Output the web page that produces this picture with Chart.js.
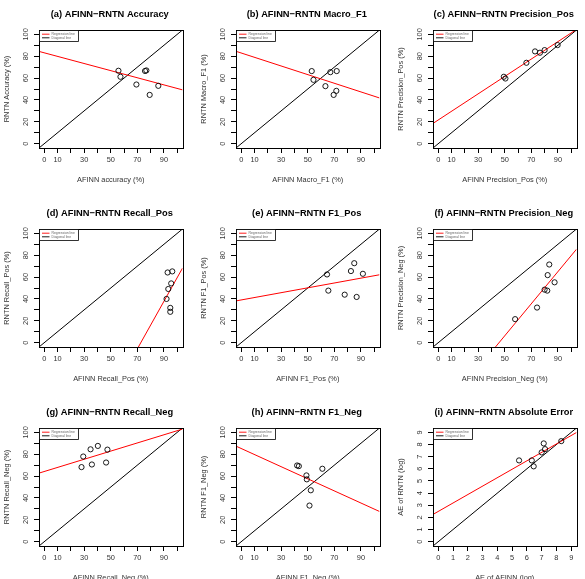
<!DOCTYPE html>
<html>
<head>
<meta charset="utf-8">
<script src="https://cdn.jsdelivr.net/npm/chart.js@4.4.1/dist/chart.umd.min.js"></script>
<style>
body{margin:0;width:585px;height:579px;overflow:hidden;background:#fff;position:relative}
.cell{position:absolute;width:197px;height:199px}
</style>
</head>
<body>
<script>

//Panel data: AFINN values (x) and RNTN values (y), one pair of arrays per panel
const accuracyAfinn = [55.8, 57.3, 69.3, 75.8, 76.8, 79.3, 85.8];
const accuracyRntn = [66.7, 61.2, 54.1, 66.5, 67.0, 44.6, 52.9];
const macroF1Afinn = [53.0, 54.3, 63.3, 67.0, 71.8, 69.5, 71.5];
const macroF1Rntn = [66.4, 58.4, 52.6, 65.4, 66.4, 44.6, 48.3];
const precPosAfinn = [49.3, 50.5, 66.3, 72.8, 76.5, 80.0, 89.8];
const precPosRntn = [61.2, 59.6, 74.0, 84.4, 83.2, 85.6, 90.2];
const recallPosAfinn = [92.8, 96.3, 95.5, 93.3, 92.0, 94.8, 94.8];
const recallPosRntn = [64.2, 65.2, 54.2, 49.1, 40.0, 31.8, 28.2];
const f1PosAfinn = [64.5, 65.5, 77.8, 82.5, 85.0, 86.8, 91.5];
const f1PosRntn = [62.4, 47.6, 43.9, 65.5, 72.7, 41.8, 63.0];
const precNegAfinn = [57.8, 74.3, 80.0, 82.0, 82.3, 83.5, 87.5];
const precNegRntn = [21.5, 32.1, 48.5, 47.6, 61.8, 71.5, 55.2];
const recallNegAfinn = [28.0, 29.3, 34.8, 35.8, 40.3, 46.5, 47.5];
const recallNegRntn = [68.2, 77.9, 84.5, 70.6, 87.6, 72.4, 84.2];
const f1NegAfinn = [42.0, 43.3, 49.0, 49.3, 52.3, 51.3, 61.0];
const f1NegRntn = [69.7, 69.1, 60.6, 57.0, 47.0, 33.0, 66.7];
const aeAfinn = [5.47, 6.33, 6.46, 7.00, 7.14, 7.23, 8.33];
const aeRntn = [6.69, 6.69, 6.20, 7.35, 8.09, 7.62, 8.28];

//Regression line end points ([x0, x1], [y0, y1])
const accuracyRegX = [-4, 104], accuracyRegY = [84.4, 49.2];
const macroF1RegX = [-4, 104], macroF1RegY = [84.5, 41.8];
const precPosRegX = [-4, 104], precPosRegY = [18.5, 104.5];
const recallPosRegX = [70.8, 104], recallPosRegY = [-4, 68.2];
const f1PosRegX = [-4, 104], f1PosRegY = [38.2, 62.1];
const precNegRegX = [43, 104], precNegRegY = [-4, 85.5];
const recallNegRegX = [-4, 104], recallNegRegY = [62.7, 103];
const f1NegRegX = [-4, 104], f1NegRegY = [87.4, 27.6];
const aeRegX = [-0.36, 9.36], aeRegY = [2.24, 8.99];

//Axis ranges, ticks and tick labels
const pctRange = [-4, 104];
const pctTicks = [0, 10, 20, 30, 40, 50, 60, 70, 80, 90, 100];
const pctXLabels = [0, 10, 30, 50, 70, 90];
const pctYLabels = [0, 20, 40, 60, 80, 100];
const logRange = [-0.36, 9.36];
const logTicks = [0, 1, 2, 3, 4, 5, 6, 7, 8, 9];
const logXLabels = logTicks;
const logYLabels = logTicks;

//Titles and axis titles
const panelTitles = [
    "(a) AFINN\u2212RNTN Accuracy", "(b) AFINN\u2212RNTN Macro_F1", "(c) AFINN\u2212RNTN Precision_Pos",
    "(d) AFINN\u2212RNTN Recall_Pos", "(e) AFINN\u2212RNTN F1_Pos", "(f) AFINN\u2212RNTN Precision_Neg",
    "(g) AFINN\u2212RNTN Recall_Neg", "(h) AFINN\u2212RNTN F1_Neg", "(i) AFINN\u2212RNTN Absolute Error"
];
const xTitles = [
    "AFINN accuracy (%)", "AFINN Macro_F1 (%)", "AFINN Precision_Pos (%)",
    "AFINN Recall_Pos (%)", "AFINN F1_Pos (%)", "AFINN Precision_Neg (%)",
    "AFINN Recall_Neg (%)", "AFINN F1_Neg (%)", "AE of AFINN (log)"
];
const yTitles = [
    "RNTN Accuracy (%)", "RNTN Macro_F1 (%)", "RNTN Precision_Pos (%)",
    "RNTN Recall_Pos (%)", "RNTN F1_Pos (%)", "RNTN Precision_Neg (%)",
    "RNTN Recall_Neg (%)", "RNTN F1_Neg (%)", "AE of RNTN (log)"
];
const legendLabels = ["Regression line", "Diagonal line"];

const panels = [
    [accuracyAfinn, accuracyRntn, accuracyRegX, accuracyRegY],
    [macroF1Afinn, macroF1Rntn, macroF1RegX, macroF1RegY],
    [precPosAfinn, precPosRntn, precPosRegX, precPosRegY],
    [recallPosAfinn, recallPosRntn, recallPosRegX, recallPosRegY],
    [f1PosAfinn, f1PosRntn, f1PosRegX, f1PosRegY],
    [precNegAfinn, precNegRntn, precNegRegX, precNegRegY],
    [recallNegAfinn, recallNegRntn, recallNegRegX, recallNegRegY],
    [f1NegAfinn, f1NegRntn, f1NegRegX, f1NegRegY],
    [aeAfinn, aeRntn, aeRegX, aeRegY]
];

Chart.defaults.font.family = "'Liberation Sans', Arial, sans-serif";
Chart.defaults.color = "#333";

//Draws the R style box, title, rotated y labels and legend
const rStylePlugin = {
    id: "rStyle",
    afterDraw(chart) {
        const ctx = chart.ctx;
        const area = chart.chartArea;
        const opts = chart.options.plugins.rStyle;
        ctx.save();

        //plot box
        ctx.strokeStyle = "#000";
        ctx.lineWidth = 1;
        ctx.strokeRect(Math.round(area.left) + 0.5, Math.round(area.top) + 0.5,
            Math.round(area.right - area.left), Math.round(area.bottom - area.top));

        //title
        ctx.fillStyle = "#000";
        ctx.font = "bold 9.3px 'Liberation Sans', Arial, sans-serif";
        ctx.textAlign = "center";
        ctx.textBaseline = "middle";
        ctx.fillText(opts.title, (area.left + area.right) / 2 - 1, 14);

        //rotated y tick labels
        const yScale = chart.scales.y;
        ctx.fillStyle = "#333";
        ctx.font = "7.4px 'Liberation Sans', Arial, sans-serif";
        opts.yLabels.forEach(v => {
            ctx.save();
            ctx.translate(area.left - 13, yScale.getPixelForValue(v));
            ctx.rotate(-Math.PI / 2);
            ctx.fillText(String(v), 0, 0);
            ctx.restore();
        });

        //legend box in the top left corner
        const lx = Math.round(area.left) + 0.5, ly = Math.round(area.top) + 0.5;
        ctx.fillStyle = "#fff";
        ctx.fillRect(lx, ly, 39, 11);
        ctx.strokeStyle = "#000";
        ctx.lineWidth = 0.8;
        ctx.strokeRect(lx, ly, 39, 11);
        const colors = ["#ff0000", "#000000"];
        ctx.font = "3.4px 'Liberation Sans', Arial, sans-serif";
        ctx.textAlign = "left";
        legendLabels.forEach((label, i) => {
            const yy = ly + 3.7 + i * 3.6;
            ctx.strokeStyle = colors[i];
            ctx.lineWidth = 0.9;
            ctx.beginPath();
            ctx.moveTo(lx + 2.5, yy);
            ctx.lineTo(lx + 10, yy);
            ctx.stroke();
            ctx.fillStyle = "#666";
            ctx.fillText(label, lx + 12, yy);
        });
        ctx.restore();
    }
};

function makePanel(index) {
    const [xs, ys, regX, regY] = panels[index];
    const isLog = index === 8;
    const range = isLog ? logRange : pctRange;
    const ticks = isLog ? logTicks : pctTicks;
    const xLabels = isLog ? logXLabels : pctXLabels;
    const yLabels = isLog ? logYLabels : pctYLabels;

    const cell = document.createElement("div");
    cell.className = "cell";
    cell.style.left = (index % 3) * 197 + "px";
    cell.style.top = Math.floor(index / 3) * 199 + "px";
    const canvas = document.createElement("canvas");
    canvas.width = 197;
    canvas.height = 199;
    cell.appendChild(canvas);
    document.body.appendChild(cell);

    const axisCommon = {
        type: "linear",
        min: range[0],
        max: range[1],
        afterBuildTicks: scale => { scale.ticks = ticks.map(v => ({value: v})); },
        grid: {drawOnChartArea: false, drawTicks: true, tickLength: 5, color: "#000", lineWidth: 1},
        border: {display: true, color: "#000", width: 1}
    };

    new Chart(canvas, {
        type: "scatter",
        plugins: [rStylePlugin],
        data: {
            datasets: [
                {
                    data: xs.map((x, i) => ({x: x, y: ys[i]})),
                    pointStyle: "circle",
                    pointRadius: 2.6,
                    pointBorderWidth: 0.9,
                    pointBorderColor: "#000",
                    pointBackgroundColor: "rgba(0,0,0,0)"
                },
                {
                    data: regX.map((x, i) => ({x: x, y: regY[i]})),
                    showLine: true,
                    pointRadius: 0,
                    borderColor: "#ff0000",
                    borderWidth: 1
                },
                {
                    data: range.map(v => ({x: v, y: v})),
                    showLine: true,
                    pointRadius: 0,
                    borderColor: "#000",
                    borderWidth: 1
                }
            ]
        },
        options: {
            responsive: false,
            animation: false,
            devicePixelRatio: 1,
            layout: {padding: {top: 30, right: 14.5, bottom: 0, left: 0}},
            plugins: {
                legend: {display: false},
                tooltip: {enabled: false},
                title: {display: false},
                rStyle: {title: panelTitles[index], yLabels: yLabels}
            },
            scales: {
                x: Object.assign({}, axisCommon, {
                    position: "bottom",
                    afterFit: scale => { scale.height = 51; },
                    ticks: {
                        autoSkip: false,
                        maxRotation: 0,
                        padding: 3,
                        font: {size: 7.4},
                        color: "#333",
                        callback: v => xLabels.includes(v) ? String(v) : ""
                    },
                    title: {display: true, text: xTitles[index], font: {size: 7.4}, color: "#333", padding: {top: 0, bottom: 14.8}}
                }),
                y: Object.assign({}, axisCommon, {
                    position: "left",
                    afterFit: scale => { scale.width = 39; },
                    ticks: {display: false},
                    title: {display: true, text: yTitles[index], font: {size: 7.4}, color: "#333", padding: {top: 3, bottom: 0}}
                })
            }
        }
    });
}

for (let i = 0; i < 9; i++) {
    makePanel(i);
}
</script>
</body>
</html>
